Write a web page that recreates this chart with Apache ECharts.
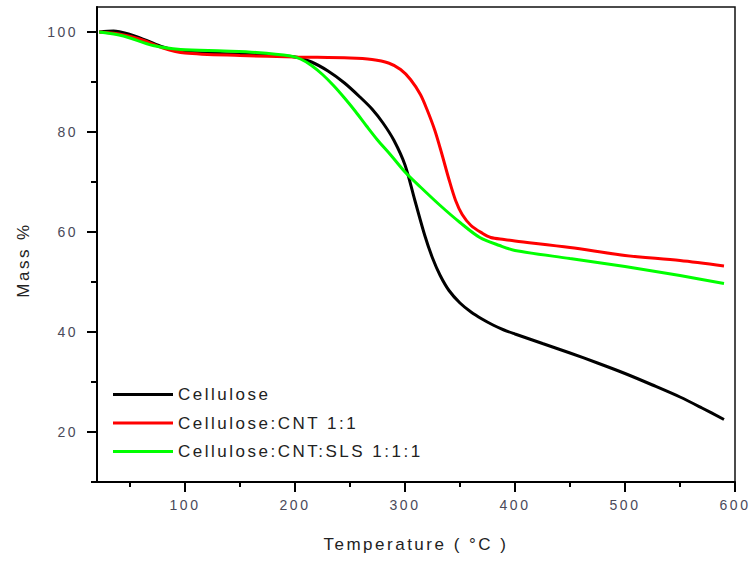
<!DOCTYPE html>
<html>
<head>
<meta charset="utf-8">
<script src="https://cdn.jsdelivr.net/npm/echarts@6/dist/echarts.min.js"></script>
<style>
html,body{margin:0;padding:0;background:#fff;}
#chart{width:750px;height:561px;}
#chart svg text{letter-spacing:2.5px;}
</style>
</head>
<body>
<div id="chart"></div>
<script>
// ---- data ----
const seriesNames = ['Cellulose', 'Cellulose:CNT 1:1', 'Cellulose:CNT:SLS 1:1:1'];

const celluloseT = [22, 35, 50, 65, 80, 100, 150, 200, 215, 230, 245, 260, 270, 280, 290, 300, 309, 318, 325, 332, 340, 350, 360, 370, 380, 390, 400, 425, 450, 475, 500, 525, 550, 570, 590];
const celluloseV = [100, 100.2, 99.5, 98.3, 97, 96, 95.6, 95, 94, 92.2, 89.8, 86.8, 84.6, 81.8, 78.3, 73.4, 66.3, 59.3, 54.8, 51.3, 48.3, 45.8, 44, 42.6, 41.4, 40.4, 39.6, 37.7, 35.8, 33.8, 31.7, 29.4, 27, 24.8, 22.5];

const cntT = [22, 40, 60, 80, 100, 150, 200, 250, 270, 285, 296, 305, 314, 320, 327, 333, 340, 346, 352, 360, 370, 378, 390, 400, 450, 500, 550, 590];
const cntV = [100, 99.6, 98.5, 96.8, 95.8, 95.3, 95, 94.8, 94.5, 93.8, 92.5, 90.5, 87.5, 84.5, 80.4, 76, 70.5, 66.3, 63.5, 61.3, 59.8, 58.9, 58.5, 58.2, 56.9, 55.3, 54.3, 53.2];

const slsT = [22, 44, 71, 96, 135, 165, 196, 205, 215, 225, 235, 245, 255, 265, 275, 287, 300, 314, 332, 350, 368, 386, 400, 450, 500, 550, 590];
const slsV = [100, 99.2, 97.3, 96.5, 96.2, 95.9, 95.2, 94.6, 93.3, 91.5, 89.3, 86.8, 84.1, 81.2, 78.4, 75.4, 72, 69, 65.3, 61.9, 58.9, 57.3, 56.3, 54.7, 53.1, 51.3, 49.7];

const xMajorTicks = [100, 200, 300, 400, 500, 600];
const xMinorTicks = [50, 150, 250, 350, 450, 550];
const yMajorTicks = [20, 40, 60, 80, 100];
const yMinorTicks = [10, 30, 50, 70, 90];

const colors = ['#000000', '#ff0000', '#00ff00'];
const xRange = [20, 600];
const yRange = [10, 105];

function pairs(ts, vs) { return ts.map((t, i) => [t, vs[i]]); }

const chart = echarts.init(document.getElementById('chart'), null, { renderer: 'svg' });

const FONT = 'Liberation Sans, Arial, sans-serif';
const tickFont = { fontFamily: FONT, fontSize: 14, color: '#4a4a5a' };

const option = {
  animation: false,
  backgroundColor: '#fff',
  grid: { left: 97, right: 15, top: 7, bottom: 79, show: true, borderColor: '#111', borderWidth: 1.5, containLabel: false },
  legend: {
    orient: 'vertical', left: 108, top: 381,
    icon: 'rect', itemWidth: 60, itemHeight: 3, itemGap: 11.5, itemTextGap: 6,
    textStyle: { fontFamily: FONT, fontSize: 17, color: '#222' },
    data: seriesNames
  },
  xAxis: [
    {
      type: 'value', min: xRange[0], max: xRange[1], position: 'bottom',
      axisLine: { show: true, lineStyle: { color: '#000', width: 2 } },
      axisTick: { show: true, length: 10, lineStyle: { color: '#000', width: 2 }, customValues: xMajorTicks },
      axisLabel: Object.assign({ margin: 16, customValues: xMajorTicks }, tickFont),
      splitLine: { show: false },
      name: 'Temperature ( °C )', nameLocation: 'middle', nameGap: 54,
      nameTextStyle: { fontFamily: FONT, fontSize: 17, color: '#222' }
    },
    {
      type: 'value', min: xRange[0], max: xRange[1], position: 'bottom',
      axisLine: { show: false },
      axisTick: { show: true, length: 5, lineStyle: { color: '#000', width: 2 }, customValues: xMinorTicks },
      axisLabel: { show: false },
      splitLine: { show: false }
    }
  ],
  yAxis: [
    {
      type: 'value', min: yRange[0], max: yRange[1], position: 'left',
      axisLine: { show: true, lineStyle: { color: '#000', width: 2 } },
      axisTick: { show: true, length: 10, lineStyle: { color: '#000', width: 2 }, customValues: yMajorTicks },
      axisLabel: Object.assign({ margin: 19, customValues: yMajorTicks }, tickFont),
      splitLine: { show: false }
    },
    {
      type: 'value', min: yRange[0], max: yRange[1], position: 'left',
      axisLine: { show: false },
      axisTick: { show: true, length: 6, lineStyle: { color: '#000', width: 2 }, customValues: yMinorTicks },
      axisLabel: { show: false },
      splitLine: { show: false }
    }
  ],
  graphic: [
    {
      type: 'text', x: 23, y: 260, rotation: Math.PI / 2,
      style: { text: 'Mass %', fontFamily: FONT, fontSize: 17, fill: '#222', textAlign: 'center', textVerticalAlign: 'middle' }
    }
  ],
  series: [
    { name: seriesNames[0], data: pairs(celluloseT, celluloseV) },
    { name: seriesNames[1], data: pairs(cntT, cntV) },
    { name: seriesNames[2], data: pairs(slsT, slsV) }
  ].map((s, i) => Object.assign({
    type: 'line', xAxisIndex: 0, yAxisIndex: 0, showSymbol: false, symbol: 'none',
    smooth: 0.3,
    lineStyle: { color: colors[i], width: 3 }, itemStyle: { color: colors[i] }
  }, s))
};
chart.setOption(option);
</script>
</body>
</html>
